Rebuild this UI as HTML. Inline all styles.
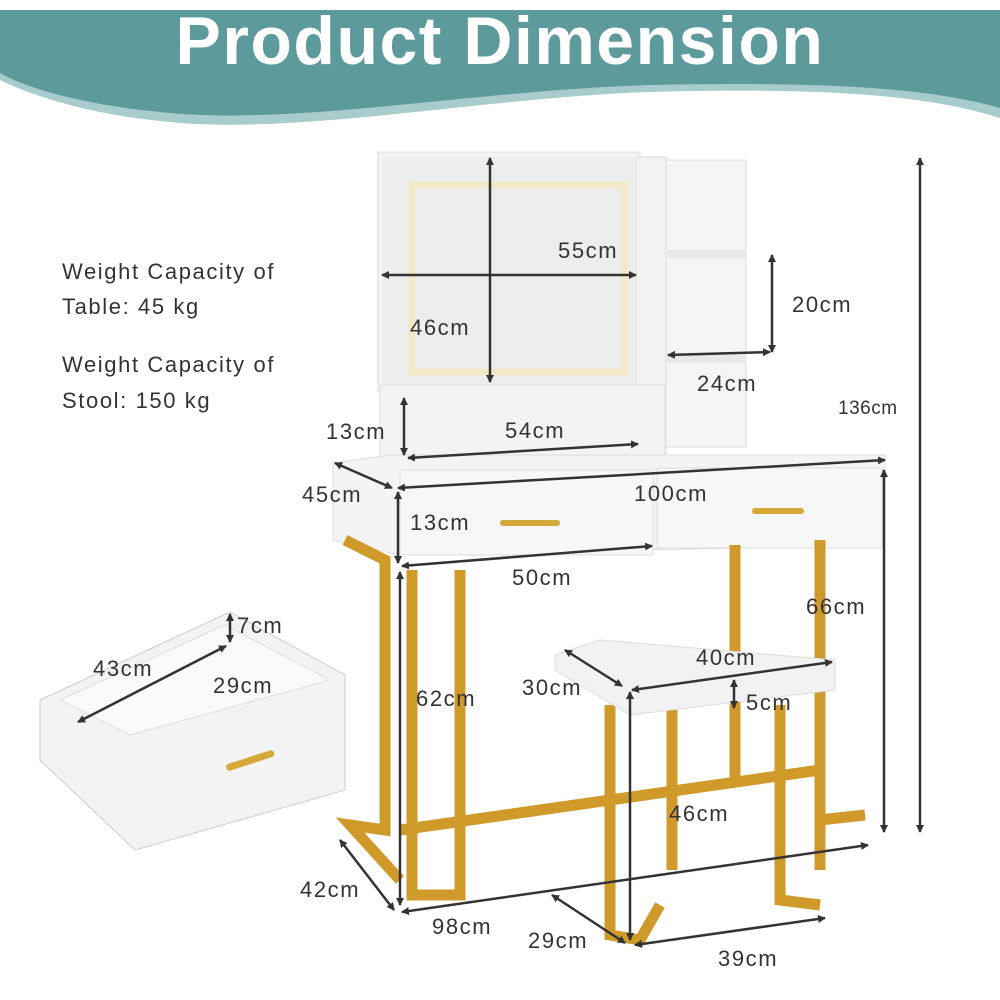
<!DOCTYPE html>
<html><head><style>
html,body{margin:0;padding:0;background:#fff;}
svg{display:block;}
text{font-family:"Liberation Sans",sans-serif;fill:#333;}
</style></head><body>
<svg width="1000" height="1000" viewBox="0 0 1000 1000" xmlns="http://www.w3.org/2000/svg">
<defs>
<marker id="a" markerWidth="8" markerHeight="8" refX="7" refY="4" orient="auto-start-reverse" markerUnits="userSpaceOnUse"><path d="M0,0 L8,4 L0,8 z" fill="#333"/></marker>
</defs>
<path d="M0,10 H1000 V118 C920,92 800,88 650,92 C480,98 300,135 170,122 C90,115 30,95 0,80 Z" fill="#a8cbcc"/>
<path d="M0,10 H1000 V108 C920,85 800,82 650,85 C480,90 300,125 170,113 C90,106 30,90 0,73 Z" fill="#5c9a9c"/>
<text x="500" y="64" text-anchor="middle" font-size="68" font-weight="bold" letter-spacing="1.5" style="fill:#fff">Product Dimension</text>

<rect x="378" y="152" width="262" height="240" fill="#f4f4f4" stroke="#ddd"/>
<rect x="383" y="157" width="252" height="230" fill="#eceeee"/>
<path d="M412,185 H625 V372 H412 Z" fill="none" stroke="#f3e9c8" stroke-width="7"/>
<rect x="636" y="157" width="30" height="300" fill="#f2f2f2" stroke="#ddd"/>
<rect x="380" y="385" width="285" height="72" fill="#f3f3f3" stroke="#ddd"/>
<rect x="666" y="160" width="80" height="287" fill="#f5f5f5" stroke="#ddd"/>
<rect x="666" y="250" width="80" height="8" fill="#e8e8e8"/>
<rect x="666" y="355" width="80" height="8" fill="#e8e8e8"/>
<path d="M333,463 L390,455 H885 V545 L400,555 L333,540 Z" fill="#f4f4f4" stroke="#ddd"/>
<rect x="400" y="470" width="253" height="85" fill="#f7f7f7" stroke="#ddd"/>
<rect x="657" y="468" width="225" height="80" fill="#f7f7f7" stroke="#ddd"/>
<rect x="500" y="520" width="60" height="6" rx="3" fill="#d4a93a"/>
<rect x="752" y="508" width="52" height="6" rx="3" fill="#d4a93a"/>
<g fill="none" stroke="#cf9a2a" stroke-width="11">
<path d="M412,570 V895 H460 V570"/>
<path d="M345,540 L385,560 V830 L350,825 L400,880"/>
<path d="M735,545 V780"/>
<path d="M820,540 V820 L865,815"/>
<path d="M400,830 L820,770"/>
<path d="M610,705 V935 L640,940 L660,905"/>
<path d="M672,710 V870"/>
<path d="M780,705 V900 L820,905"/>
<path d="M820,690 V870"/>
</g>
<path d="M555,655 L600,640 L835,660 V690 L630,715 L555,670 Z" fill="#f2f2f2" stroke="#ddd"/>
<path d="M40,700 L230,612 L345,675 L345,790 L135,850 L40,760 Z" fill="#f3f3f3" stroke="#ccc"/>
<path d="M60,700 L225,625 L330,680 L130,735 Z" fill="#fafafa" stroke="#ddd"/>
<rect x="225" y="757" width="50" height="7" rx="3" fill="#d4a93a" transform="rotate(-18 250 760)"/>

<g stroke="#333" stroke-width="2.5" marker-start="url(#a)" marker-end="url(#a)">
<line x1="490" y1="158" x2="490" y2="382"/>
<line x1="382" y1="275" x2="636" y2="275"/>
<line x1="772" y1="255" x2="772" y2="352"/>
<line x1="668" y1="355" x2="770" y2="352"/>
<line x1="404" y1="398" x2="404" y2="455"/>
<line x1="408" y1="458" x2="638" y2="444"/>
<line x1="920" y1="158" x2="920" y2="832"/>
<line x1="335" y1="463" x2="392" y2="488"/>
<line x1="398" y1="488" x2="885" y2="460"/>
<line x1="398" y1="492" x2="398" y2="563"/>
<line x1="402" y1="566" x2="652" y2="546"/>
<line x1="884" y1="470" x2="884" y2="832"/>
<line x1="400" y1="572" x2="400" y2="905"/>
<line x1="340" y1="840" x2="394" y2="910"/>
<line x1="402" y1="912" x2="868" y2="845"/>
<line x1="565" y1="650" x2="622" y2="686"/>
<line x1="632" y1="690" x2="832" y2="662"/>
<line x1="734" y1="680" x2="734" y2="708"/>
<line x1="630" y1="692" x2="630" y2="940"/>
<line x1="552" y1="895" x2="625" y2="943"/>
<line x1="635" y1="945" x2="825" y2="918"/>
<line x1="230" y1="614" x2="230" y2="642"/>
<line x1="78" y1="722" x2="226" y2="646"/>
</g>

<g font-size="22" letter-spacing="1.6">
<text x="62" y="279">Weight Capacity of</text>
<text x="62" y="314">Table: 45 kg</text>
<text x="62" y="372">Weight Capacity of</text>
<text x="62" y="408">Stool: 150 kg</text>
<text x="558" y="258">55cm</text>
<text x="410" y="335">46cm</text>
<text x="792" y="312">20cm</text>
<text x="697" y="391">24cm</text>
<text x="326" y="439">13cm</text>
<text x="505" y="438">54cm</text>
<text x="302" y="502">45cm</text>
<text x="634" y="501">100cm</text>
<text x="410" y="530">13cm</text>
<text x="512" y="585">50cm</text>
<text x="806" y="614">66cm</text>
<text x="696" y="665">40cm</text>
<text x="522" y="695">30cm</text>
<text x="746" y="710">5cm</text>
<text x="416" y="706">62cm</text>
<text x="669" y="821">46cm</text>
<text x="300" y="897">42cm</text>
<text x="432" y="934">98cm</text>
<text x="528" y="948">29cm</text>
<text x="718" y="966">39cm</text>
<text x="237" y="633">7cm</text>
<text x="93" y="676">43cm</text>
<text x="213" y="693">29cm</text>
<text x="838" y="414" font-size="19" letter-spacing="0.5">136cm</text>
</g>
</svg>
</body></html>
